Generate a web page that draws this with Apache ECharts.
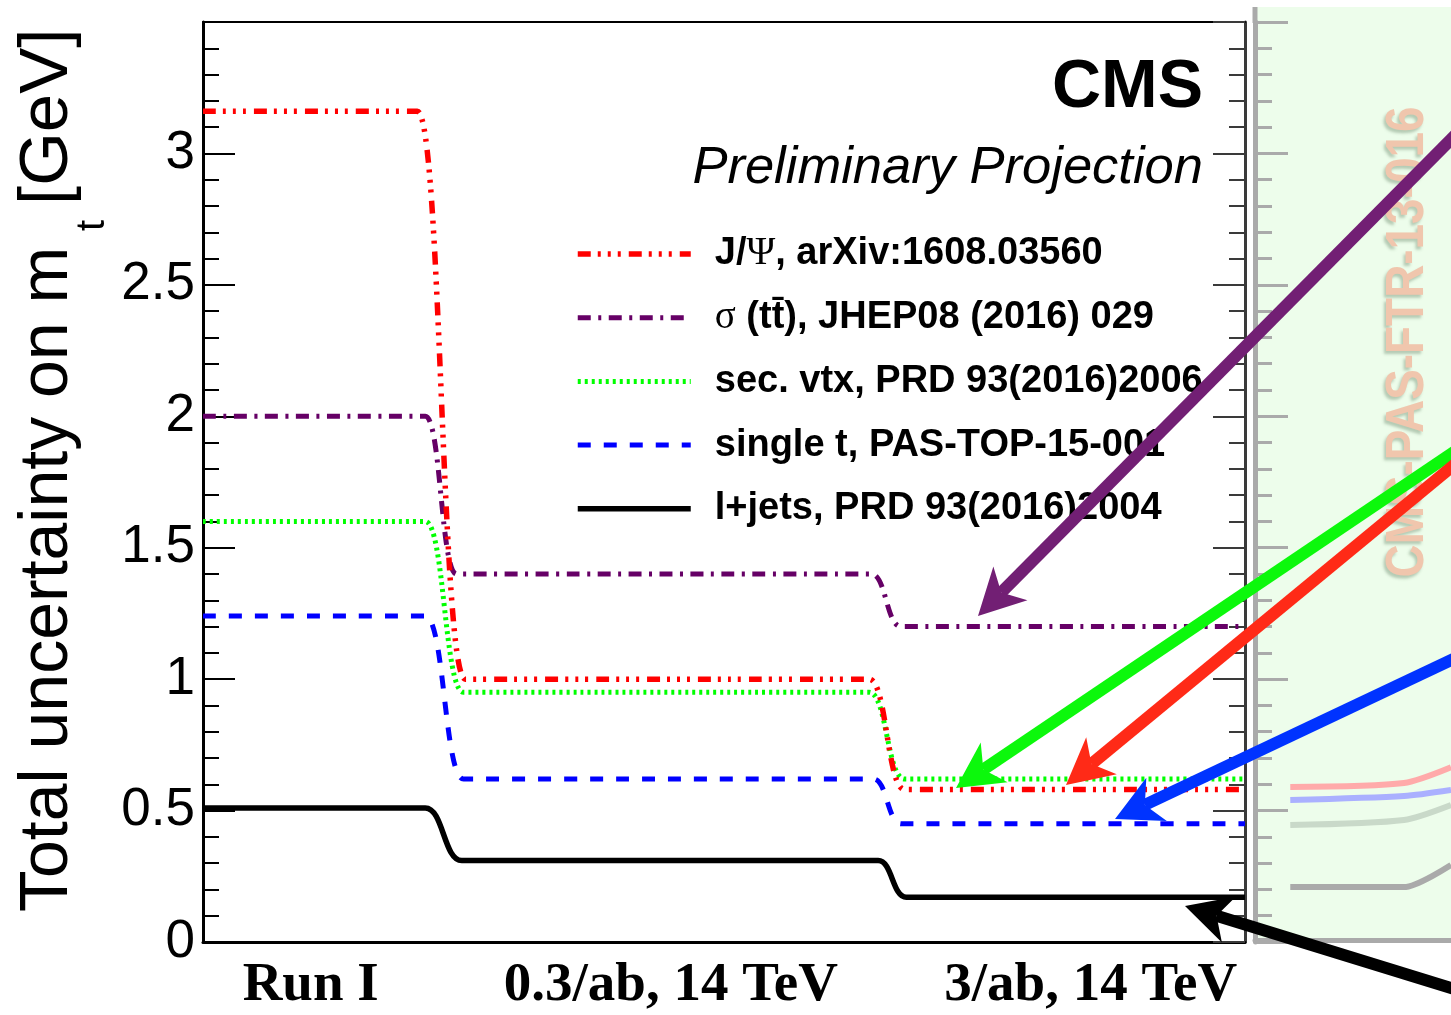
<!DOCTYPE html>
<html>
<head>
<meta charset="utf-8">
<script src="https://cdn.jsdelivr.net/npm/echarts@6/dist/echarts.min.js"></script>
<style>
  html, body { margin: 0; padding: 0; background: #fff; }
  #chart { width: 1451px; height: 1015px; }
</style>
</head>
<body>
<div id="chart"></div>
<script>
// Luminosity stages along the x axis (0..3) and where their labels sit
const stageLabels = ['Run I', '0.3/ab, 14 TeV', '3/ab, 14 TeV'];
const stageLabelAt = [0.31, 1.347, 2.556];

// Total uncertainty on m_t [GeV] for each method: curve knots (x) and values (y)
const jpsiX   = [0, 0.617, 0.755, 1.918, 2.02, 3];
const jpsiY   = [3.16, 3.16, 1.0, 1.0, 0.58, 0.58];
const sigmaX  = [0, 0.64, 0.73, 1.924, 2.01, 3];
const sigmaY  = [2.0, 2.0, 1.4, 1.4, 1.2, 1.2];
const secvtxX = [0, 0.64, 0.75, 1.918, 2.02, 3];
const secvtxY = [1.6, 1.6, 0.95, 0.95, 0.62, 0.62];
const singleX = [0, 0.64, 0.75, 1.93, 2.01, 3];
const singleY = [1.24, 1.24, 0.62, 0.62, 0.45, 0.45];
const ljetsX  = [0, 0.64, 0.745, 1.944, 2.025, 3];
const ljetsY  = [0.51, 0.51, 0.31, 0.31, 0.17, 0.17];

const seriesNames = [
  'J/\u03A8, arXiv:1608.03560',
  '\u03C3 (tt\u0304), JHEP08 (2016) 029',
  'sec. vtx, PRD 93(2016)2006',
  'single t, PAS-TOP-15-001',
  'l+jets, PRD 93(2016)2004'
];

// Faded curves of the neighbouring panel (same GeV scale)
const panelX      = [0.18, 0.76, 1.0];
const panelPinkY  = [0.59, 0.605, 0.665];
const panelBlueY  = [0.54, 0.555, 0.578];
const panelSageY  = [0.445, 0.464, 0.521];
const panelGreyY  = [0.209, 0.209, 0.293];

const yTicksMax = 3.5;

function pairs(xs, ys) { return xs.map((x, i) => [x, ys[i]]); }

const chart = echarts.init(document.getElementById('chart'), null, { renderer: 'canvas' });

// line styles shared by the curves and their legend samples
const styles = [
  { color: '#ff0000', width: 5.5, type: [13, 7, 3, 7, 3, 7, 3, 8] },
  { color: '#660066', width: 5, type: [13, 7.5, 3, 7.5] },
  { color: '#00ff00', width: 5, type: [3, 4] },
  { color: '#0000ff', width: 5, type: [13, 13] },
  { color: '#000000', width: 5.5, type: 'solid' }
];
const curves = [[jpsiX, jpsiY], [sigmaX, sigmaY], [secvtxX, secvtxY], [singleX, singleY], [ljetsX, ljetsY]];

function stepSeries(i) {
  const st = styles[i];
  return {
    name: seriesNames[i], type: 'line', xAxisIndex: 0, yAxisIndex: 0,
    data: pairs(curves[i][0], curves[i][1]), symbol: 'none', showSymbol: false,
    smooth: 0.5, smoothMonotone: 'x',
    lineStyle: { color: st.color, width: st.width, type: st.type, cap: 'butt' },
    itemStyle: { color: st.color },
    z: 3
  };
}
function panelSeries(ys, color) {
  return {
    type: 'line', xAxisIndex: 2, yAxisIndex: 2, data: pairs(panelX, ys),
    symbol: 'none', smooth: 0.25, silent: true,
    lineStyle: { color, width: 6 }, z: 2
  };
}

// Annotation arrows (shaft + notched head), screen coordinates
function arrow(tip, tail, color) {
  const dx = tail[0] - tip[0], dy = tail[1] - tip[1];
  const len = Math.hypot(dx, dy), ux = dx / len, uy = dy / len;
  const px = -uy, py = ux;
  const L = 46, W = 24, N = 33;
  const b1 = [tip[0] + ux * L + px * W, tip[1] + uy * L + py * W];
  const b2 = [tip[0] + ux * L - px * W, tip[1] + uy * L - py * W];
  const notch = [tip[0] + ux * N, tip[1] + uy * N];
  return [
    { type: 'line', z: 100, silent: true,
      shape: { x1: notch[0], y1: notch[1], x2: tail[0], y2: tail[1] },
      style: { stroke: color, lineWidth: 12 } },
    { type: 'polygon', z: 101, silent: true,
      shape: { points: [tip, b1, notch, b2] }, style: { fill: color } }
  ];
}

function txt(o) {
  const s = Object.assign({ fill: '#000' }, o.style);
  s.textAlign = s.align; s.textVerticalAlign = s.verticalAlign;
  return Object.assign({ type: 'text', silent: true, z: 50 }, o, { style: s });
}

const option = {
  animation: false,
  backgroundColor: '#fff',
  grid: [
    { left: 203, top: 22, width: 1042, height: 920 },
    { left: 1255, top: 22, width: 196, height: 920 }
  ],
  legend: {
    orient: 'vertical', left: 575, top: 234, itemWidth: 113, itemHeight: 20, itemGap: 23.7,
    padding: 0, selectedMode: false,
    data: seriesNames.map((name, i) => ({
      name,
      itemStyle: { color: 'rgba(0,0,0,0)', borderWidth: 0, opacity: 0 },
      lineStyle: { color: styles[i].color, width: styles[i].width, type: styles[i].type, cap: 'butt' }
    })),
    formatter: n => n.replace(/[\u03A8\u03C3]/g, m => '{g|' + m + '}'),
    textStyle: {
      fontFamily: 'Liberation Sans', fontWeight: 'bold', fontSize: 38, color: '#000',
      lineHeight: 40, padding: [0, 0, 0, 19],
      rich: { g: { fontFamily: 'Liberation Serif', fontWeight: 'normal', fontSize: 39, color: '#000' } }
    }
  },
  xAxis: [
    { gridIndex: 0, type: 'value', min: 0, max: 3, position: 'bottom',
      axisLine: { show: true, onZero: false, lineStyle: { color: '#000', width: 3 } },
      axisTick: { show: false }, splitLine: { show: false },
      axisLabel: {
        customValues: stageLabelAt,
        formatter: v => { const i = stageLabelAt.indexOf(v); return i >= 0 ? stageLabels[i] : ''; },
        fontFamily: 'Liberation Serif', fontWeight: 'bold', fontSize: 55, color: '#000', margin: 16
      } },
    { gridIndex: 0, type: 'value', min: 0, max: 3, position: 'top',
      axisLine: { show: true, onZero: false, lineStyle: { color: '#000', width: 2 } },
      axisTick: { show: false }, axisLabel: { show: false }, splitLine: { show: false } },
    { gridIndex: 1, type: 'value', min: 0, max: 1, position: 'bottom', offset: -2,
      axisLine: { show: true, onZero: false, lineStyle: { color: '#aaaaaa', width: 5 } },
      axisTick: { show: false }, axisLabel: { show: false }, splitLine: { show: false } }
  ],
  yAxis: [
    { gridIndex: 0, type: 'value', min: 0, max: yTicksMax, interval: 0.5, position: 'left',
      axisLine: { show: true, onZero: false, lineStyle: { color: '#000', width: 3 } },
      axisTick: { show: true, inside: true, length: 32, lineStyle: { color: '#000', width: 2 } },
      minorTick: { show: true, splitNumber: 5, length: 16, lineStyle: { color: '#000', width: 2 } },
      splitLine: { show: false }, minorSplitLine: { show: false },
      axisLabel: { fontFamily: 'Liberation Sans', fontSize: 53, color: '#000', margin: 8,
        formatter: v => (v === yTicksMax ? '' : String(v)) } },
    { gridIndex: 0, type: 'value', min: 0, max: yTicksMax, interval: 0.5, position: 'right',
      axisLine: { show: true, onZero: false, lineStyle: { color: '#3a3a3a', width: 3 } },
      axisTick: { show: true, inside: true, length: 32, lineStyle: { color: '#3a3a3a', width: 2 } },
      minorTick: { show: true, splitNumber: 5, length: 16, lineStyle: { color: '#3a3a3a', width: 2 } },
      splitLine: { show: false }, axisLabel: { show: false } },
    { gridIndex: 1, type: 'value', min: 0, max: yTicksMax, interval: 0.5, position: 'left',
      axisLine: { show: true, onZero: false, lineStyle: { color: '#aaaaaa', width: 5 } },
      axisTick: { show: true, inside: true, length: 33, lineStyle: { color: '#aaaaaa', width: 3 } },
      minorTick: { show: true, splitNumber: 5, length: 17, lineStyle: { color: '#aaaaaa', width: 3 } },
      splitLine: { show: false }, axisLabel: { show: false } }
  ],
  series: [
    panelSeries(panelPinkY, '#ffaaaa'),
    panelSeries(panelBlueY, '#aab0ff'),
    panelSeries(panelSageY, '#c9d9c9'),
    panelSeries(panelGreyY, '#aaaaaa'),
    stepSeries(4), stepSeries(3), stepSeries(2), stepSeries(1), stepSeries(0)
  ],
  graphic: {
    elements: [
      // neighbouring panel background and axis extension
      { type: 'rect', z: -1, silent: true, shape: { x: 1257, y: 7, width: 194, height: 932 },
        style: { fill: '#edfdeb' } },
      { type: 'rect', z: 1, silent: true, shape: { x: 1252.5, y: 7, width: 5, height: 16 },
        style: { fill: '#aaaaaa' } },
      txt({ x: 1408, y: 342, rotation: Math.PI / 2, scaleX: 0.85,
        style: { text: 'CMS-PAS-FTR-13-016', font: 'bold 54px "Liberation Sans"', fill: '#f0c6ad',
          align: 'center', verticalAlign: 'middle',
          textShadowColor: 'rgba(110,140,110,0.45)', textShadowBlur: 3,
          textShadowOffsetX: -2, textShadowOffsetY: 3 }, z: 1 }),
      // y axis title
      txt({ x: 48, y: 912, rotation: Math.PI / 2,
        style: { text: 'Total uncertainty on m', font: '68px "Liberation Sans"', align: 'left', verticalAlign: 'middle' } }),
      txt({ x: 93, y: 231, rotation: Math.PI / 2,
        style: { text: 't', font: '40px "Liberation Sans"', align: 'left', verticalAlign: 'middle' } }),
      txt({ x: 48, y: 205, rotation: Math.PI / 2,
        style: { text: '[GeV]', font: '69px "Liberation Sans"', align: 'left', verticalAlign: 'middle' } }),
      // experiment label
      txt({ x: 1203, y: 88,
        style: { text: 'CMS', font: 'bold 68px "Liberation Sans"', align: 'right', verticalAlign: 'middle' } }),
      txt({ x: 1203, y: 168,
        style: { text: 'Preliminary Projection', font: 'italic 52.5px "Liberation Sans"', align: 'right', verticalAlign: 'middle' } }),
      // arrows from the neighbouring panel to each 3/ab projection
      ...arrow([978, 616], [1500, 90], '#721f74'),
      ...arrow([956, 788], [1500, 421], '#0cf80c'),
      ...arrow([1066, 785], [1500, 427], '#ff2a17'),
      ...arrow([1115, 819], [1500, 637], '#0033ff'),
      ...arrow([1185, 906], [1500, 1003], '#000000')
    ]
  }
};

chart.setOption(option);
</script>
</body>
</html>
